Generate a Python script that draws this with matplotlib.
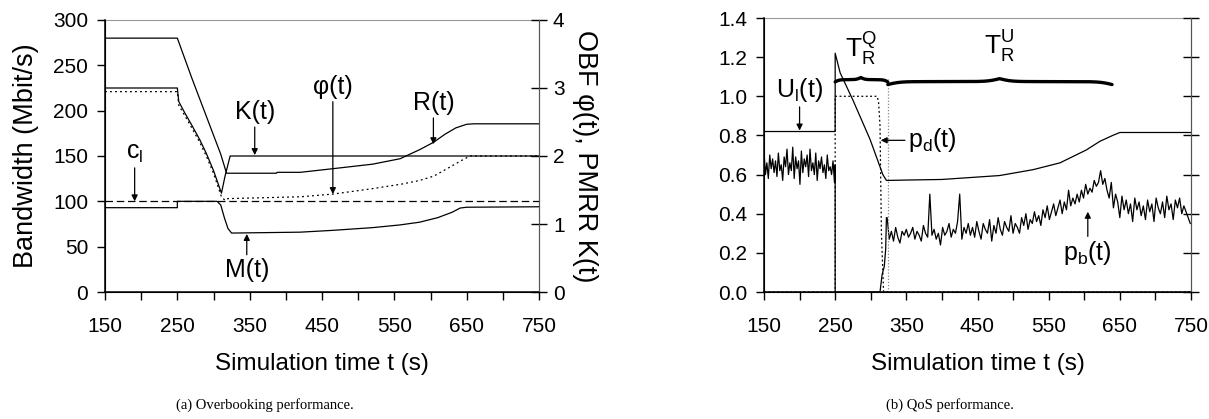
import numpy as np
import matplotlib
matplotlib.use("Agg")
import matplotlib.pyplot as plt

plt.rcParams['font.family'] = ['Liberation Sans', 'DejaVu Sans']

# ---------------- data: (a) overbooking ----------------
t_R = [150, 250, 260, 270, 280, 290, 300, 310, 318, 387, 388, 420, 465, 520, 558, 585, 604, 620, 635, 650, 660, 750]
R = [280, 280, 258, 236, 215, 194, 173, 152, 131, 131, 132, 132, 136, 141, 147, 157, 165, 174, 181, 185, 185.5, 185.5]

t_K = [150, 250, 252, 260, 270, 281, 290, 300, 311, 316, 323, 750]
K = [225, 225, 210, 198, 184, 168, 153, 134, 109, 128, 150, 150]

t_phi = [150, 250, 252, 260, 270, 281, 290, 300, 311, 316, 320, 420, 465, 520, 560, 585, 605, 625, 645, 655, 750]
phi = [221, 221, 206, 195, 181, 165, 150, 131, 105, 101, 103, 105, 108, 114, 119, 123, 128, 137, 146, 150, 150]

t_M = [150, 250, 250, 305, 310, 315, 320, 325, 420, 465, 520, 558, 585, 610, 630, 641, 650, 750]
M = [93, 93, 100, 100, 96, 82, 70, 65, 66, 68, 71, 74, 77, 82, 88, 92.6, 93.5, 94]

c_l = 100

# ---------------- data: (b) QoS ----------------
t_U = [150, 250, 250, 257, 275, 299, 317, 322, 350, 400, 481, 528, 566, 603, 622, 640, 650, 750]
U = [0.82, 0.82, 1.22, 1.12, 0.98, 0.78, 0.60, 0.57, 0.572, 0.575, 0.595, 0.625, 0.66, 0.726, 0.77, 0.80, 0.815, 0.815]

t_pd = [150, 250, 250, 309, 311, 313, 315, 318, 750]
pd = [0, 0, 1.0, 1.0, 0.97, 0.85, 0.3, 0.0, 0.0]

pb_pre = [0.72, 0.60, 0.66, 0.58, 0.70, 0.63, 0.68, 0.61, 0.67, 0.59,
          0.71, 0.62, 0.65, 0.57, 0.69, 0.64, 0.73, 0.60, 0.66, 0.62,
          0.74, 0.58, 0.69, 0.63, 0.67, 0.55, 0.72, 0.61, 0.68, 0.64,
          0.70, 0.59, 0.73, 0.62, 0.66, 0.60, 0.71, 0.57, 0.67, 0.63,
          0.69, 0.61, 0.65, 0.58, 0.70, 0.62, 0.64, 0.60, 0.67, 0.56]
t_pb_gap = [250, 250, 313, 316, 319, 321, 322]
pb_gap = [0.65, 0.0, 0.0, 0.09, 0.13, 0.22, 0.38]
pb_post = [0.38, 0.27, 0.31, 0.26, 0.33, 0.28, 0.25, 0.31, 0.29, 0.32,
           0.28, 0.30, 0.33, 0.27, 0.31, 0.29, 0.26, 0.34, 0.30, 0.28,
           0.50, 0.29, 0.32, 0.27, 0.30, 0.24, 0.33, 0.29, 0.31, 0.35,
           0.28, 0.32, 0.30, 0.36, 0.50, 0.27, 0.33, 0.30, 0.35, 0.29,
           0.33, 0.28, 0.36, 0.31, 0.27, 0.35, 0.32, 0.30, 0.37, 0.26,
           0.34, 0.30, 0.38, 0.32, 0.29, 0.36, 0.33, 0.31, 0.39, 0.30,
           0.35, 0.33, 0.30, 0.38, 0.34, 0.40, 0.32, 0.37, 0.35, 0.41,
           0.36, 0.39, 0.34, 0.42, 0.38, 0.44, 0.37, 0.41, 0.45, 0.39,
           0.43, 0.47, 0.40, 0.46, 0.42, 0.52, 0.44, 0.48, 0.45, 0.50,
           0.46, 0.52, 0.48, 0.55, 0.50, 0.53, 0.51, 0.57, 0.54, 0.56,
           0.62, 0.55, 0.58, 0.52, 0.48, 0.56, 0.43, 0.50, 0.46, 0.38,
           0.49, 0.42, 0.47, 0.40, 0.45, 0.36, 0.48, 0.42, 0.46, 0.39,
           0.44, 0.37, 0.47, 0.41, 0.45, 0.36, 0.48, 0.43, 0.40, 0.46,
           0.38, 0.49, 0.42, 0.45, 0.37, 0.47, 0.43, 0.48, 0.40, 0.44,
           0.41, 0.38, 0.35]

x_ticks = list(range(150, 751, 50))
x_labels = [str(v) if (v - 150) % 100 == 0 else '' for v in x_ticks]

lw = 0.9
tick_fs = 15
ann_fs = 18


def style_axes(ax):
    ax.set_xlim(150, 750)
    ax.set_xticks(x_ticks)
    ax.set_xticklabels(x_labels, fontsize=tick_fs)
    ax.tick_params(axis='x', direction='out', length=6, width=1, pad=12)
    ax.tick_params(axis='y', direction='out', length=6, width=1, labelsize=tick_fs, pad=6)
    ax.spines['top'].set_color('#999999')
    ax.spines['top'].set_linewidth(0.8)
    ax.spines['right'].set_color('#555555')
    ax.spines['left'].set_linewidth(1.1)
    ax.spines['bottom'].set_linewidth(1.1)
    ax.set_xlabel('Simulation time t (s)', fontsize=17.5, labelpad=12)


def brace(ax, x0, x1, y, h, tip, beta):
    # curly brace drawn in data coordinates, tip pointing up
    xl = np.linspace(x0, tip, 200)
    xr = np.linspace(tip, x1, 200)
    yl = y + h * (0.5 / (1 + np.exp(-beta * (xl - x0))) + 0.5 / (1 + np.exp(-beta * (xl - tip))))
    yr = y + h * (0.5 / (1 + np.exp(-beta * (x1 - xr))) + 0.5 / (1 + np.exp(-beta * (tip - xr))))
    yl = yl - h * 0.5 / (1 + np.exp(-beta * (tip - x0)))
    yr = yr - h * 0.5 / (1 + np.exp(-beta * (x1 - tip)))
    ax.plot(np.r_[xl, xr], np.r_[yl, yr], color='black', lw=2.4, solid_capstyle='round')


fig = plt.figure(figsize=(12.09, 4.19), dpi=100)

# ---------------- (a) ----------------
ax1 = fig.add_axes([105 / 1209, 127 / 419, 434 / 1209, 272 / 419])
ax1.plot(t_R, R, color='black', lw=lw)
ax1.plot(t_K, K, color='black', lw=lw)
ax1.plot(t_phi, phi, color='black', lw=lw, ls=(0, (1.5, 2.5)))
ax1.plot(t_M, M, color='black', lw=lw)
ax1.axhline(c_l, color='black', lw=lw, ls=(0, (6, 3)))
ax1.set_ylim(0, 300)
ax1.set_yticks(range(0, 301, 50))
style_axes(ax1)
ax1.set_ylabel('Bandwidth (Mbit/s)', fontsize=19.5, labelpad=10)

ax1r = ax1.twinx()
ax1r.set_ylim(0, 4)
ax1r.set_yticks(range(0, 5))
ax1r.tick_params(axis='y', direction='inout', length=12, width=1, labelsize=tick_fs, pad=4)
ax1r.spines['right'].set_color('#555555')
ax1r.spines['top'].set_visible(False)
ax1r.set_ylabel('OBF \u03c6(t), PMRR K(t)', fontsize=19.5, rotation=-90, labelpad=24)

arrow = dict(arrowstyle='-|>', color='black', lw=0.9, mutation_scale=9, shrinkA=0, shrinkB=0)
ax1.annotate('c$_\\mathregular{l}$', xy=(191, 100), xytext=(191, 140), fontsize=ann_fs,
             ha='center', va='bottom', arrowprops=arrow)
ax1.annotate('K(t)', xy=(357, 151), xytext=(357, 185), fontsize=ann_fs,
             ha='center', va='bottom', arrowprops=arrow)
ax1.annotate('\u03c6(t)', xy=(465, 108), xytext=(465, 213), fontsize=ann_fs,
             ha='center', va='bottom', arrowprops=arrow)
ax1.annotate('R(t)', xy=(604, 163), xytext=(604, 195), fontsize=ann_fs,
             ha='center', va='bottom', arrowprops=arrow)
ax1.annotate('M(t)', xy=(346, 64), xytext=(346, 38), fontsize=ann_fs,
             ha='center', va='top', arrowprops=arrow)

# ---------------- (b) ----------------
ax2 = fig.add_axes([764 / 1209, 127 / 419, 427 / 1209, 274 / 419])
ax2.plot(t_U, U, color='black', lw=lw)
ax2.plot(t_pd, pd, color='black', lw=lw, ls=(0, (1.5, 2)))
t_pre = np.linspace(150, 249, len(pb_pre))
t_post = np.linspace(323, 749, len(pb_post))
ax2.plot(np.r_[t_pre, t_pb_gap, t_post], np.r_[pb_pre, pb_gap, pb_post], color='black', lw=lw)
ax2.plot([324, 324], [0, 1.09], color='#888888', lw=0.9, ls=(0, (1, 1.5)))
ax2.set_ylim(0, 1.4)
ax2.set_yticks(np.arange(0, 1.41, 0.2))
ax2.set_yticklabels(['%.1f' % v for v in np.arange(0, 1.41, 0.2)])
style_axes(ax2)

ax2r = ax2.twinx()
ax2r.set_ylim(0, 1.4)
ax2r.set_yticks(np.arange(0, 1.41, 0.2))
ax2r.set_yticklabels([])
ax2r.tick_params(axis='y', direction='inout', length=12, width=1)
ax2r.spines['right'].set_color('#555555')
ax2r.spines['top'].set_visible(False)

brace(ax2, 250, 324, 1.085, 0.045, 286, 0.35)
brace(ax2, 324, 639, 1.075, 0.06, 481, 0.12)
ax2.text(286, 1.15, 'T$_\\mathregular{R}^\\mathregular{Q}$', fontsize=19, ha='center', va='bottom')
ax2.text(481, 1.165, 'T$_\\mathregular{R}^\\mathregular{U}$', fontsize=19, ha='center', va='bottom')

ax2.annotate('U$_\\mathregular{l}$(t)', xy=(200, 0.825), xytext=(200, 0.96), fontsize=ann_fs,
             ha='center', va='bottom', arrowprops=arrow)
ax2.annotate('p$_\\mathregular{d}$(t)', xy=(314, 0.775), xytext=(352, 0.775), fontsize=ann_fs,
             ha='left', va='center', arrowprops=arrow)
ax2.annotate('p$_\\mathregular{b}$(t)', xy=(605, 0.41), xytext=(605, 0.27), fontsize=ann_fs,
             ha='center', va='top', arrowprops=arrow)

fig.text(265 / 1209, 1 - 405 / 419, '(a) Overbooking performance.', family='Liberation Serif',
         fontsize=10.5, ha='center', va='center')
fig.text(950 / 1209, 1 - 405 / 419, '(b) QoS performance.', family='Liberation Serif',
         fontsize=10.5, ha='center', va='center')

fig.savefig('out.png', dpi=100)
